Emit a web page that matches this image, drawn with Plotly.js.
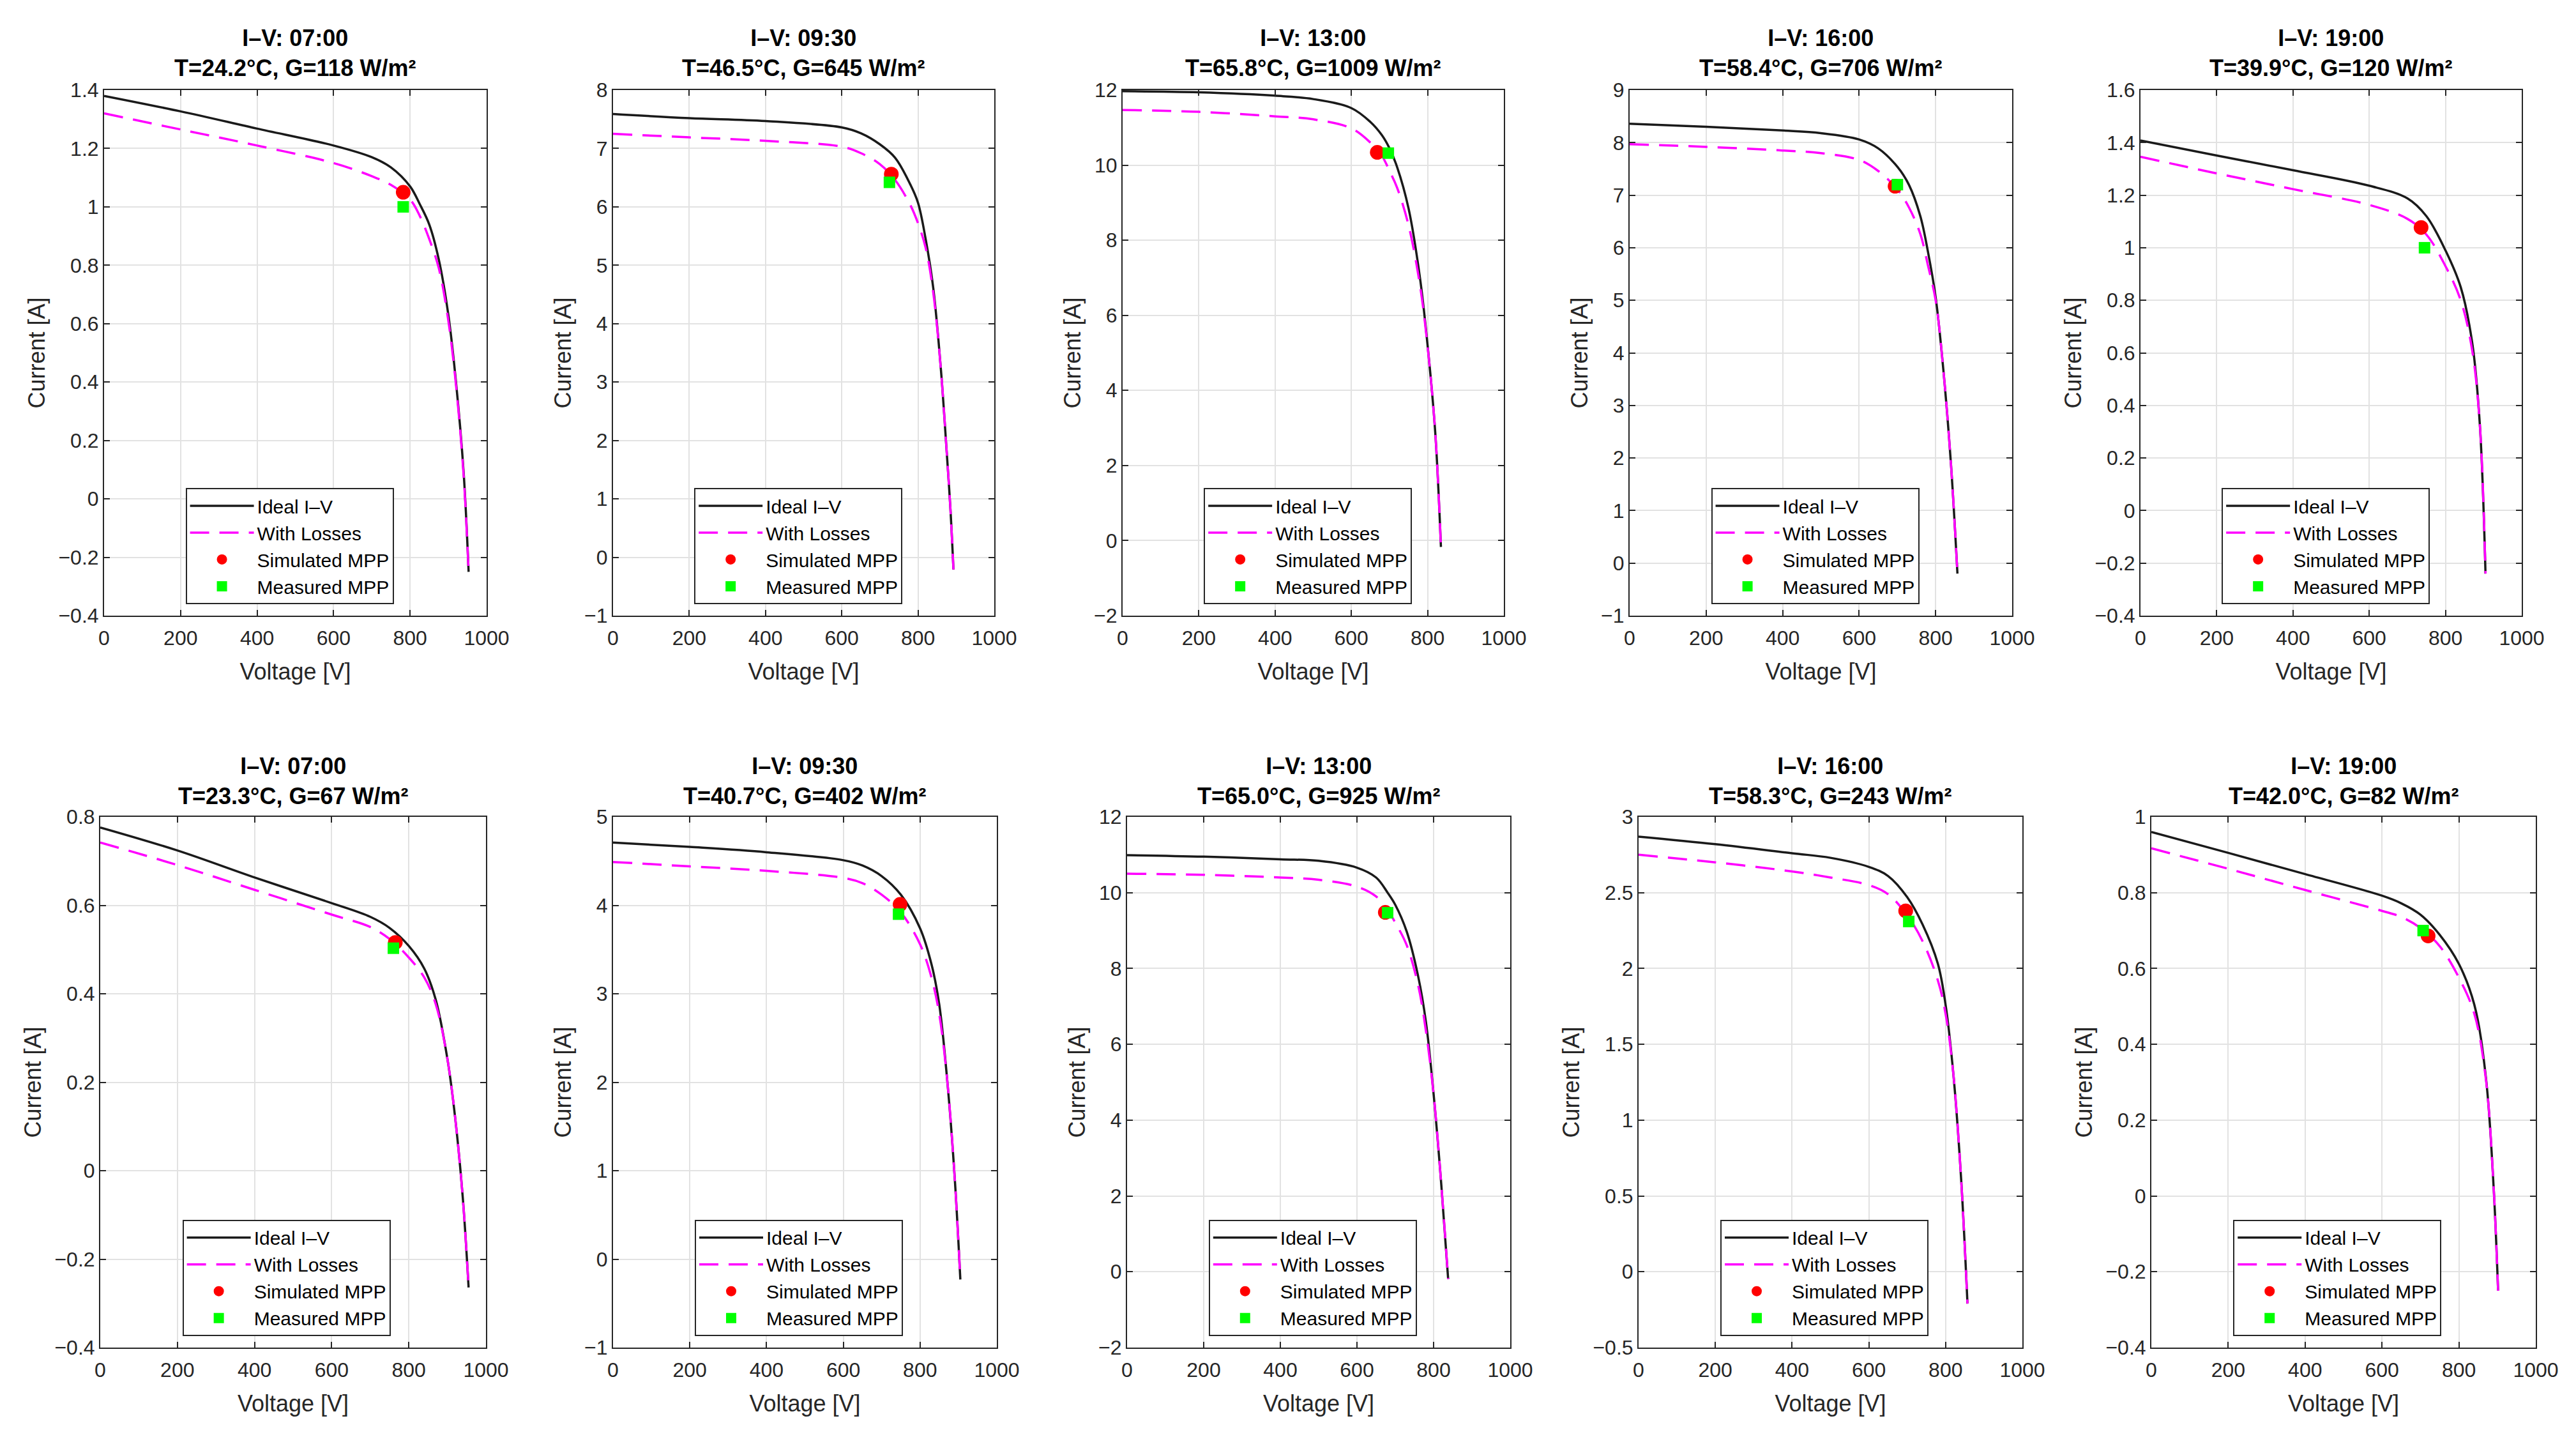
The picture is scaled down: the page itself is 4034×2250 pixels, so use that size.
<!DOCTYPE html>
<html>
<head>
<meta charset="utf-8">
<script src="https://cdn.plot.ly/plotly-3.0.1.min.js"></script>
<style>html,body{margin:0;padding:0;background:#fff}</style>
</head>
<body>
<div id="chart"></div>
<script>
// panel headers (row 1 then row 2)
const times = ['07:00', '09:30', '13:00', '16:00', '19:00', '07:00', '09:30', '13:00', '16:00', '19:00'];
const tempC = ['24.2', '46.5', '65.8', '58.4', '39.9', '23.3', '40.7', '65.0', '58.3', '42.0'];
const irradiance = [118, 645, 1009, 706, 120, 67, 402, 925, 243, 82];

// current axis ranges and tick steps
const yRanges = [[-0.4, 1.4], [-1, 8], [-2, 12], [-1, 9], [-0.4, 1.6],
                 [-0.4, 0.8], [-1, 5], [-2, 12], [-0.5, 3], [-0.4, 1]];
const yDticks = [0.2, 1, 2, 1, 0.2, 0.2, 1, 2, 0.5, 0.2];

// I-V curves: voltage [V], ideal current [A], current with losses [A]
const v1 = [0, 200, 400, 600, 700, 750, 800, 825, 850, 875, 900, 920, 940, 953];
const ideal1 = [1.38, 1.327, 1.268, 1.21, 1.17, 1.135, 1.07, 1.01, 0.94, 0.82, 0.63, 0.40, 0.09, -0.25];
const loss1 = [1.32, 1.265, 1.21, 1.15, 1.105, 1.075, 1.025, 0.97, 0.89, 0.79, 0.61, 0.39, 0.08, -0.25];

const v2 = [0, 200, 400, 600, 650, 700, 740, 780, 800, 820, 840, 860, 875, 885, 893];
const ideal2 = [7.59, 7.52, 7.47, 7.36, 7.26, 7.07, 6.84, 6.38, 6.07, 5.45, 4.61, 3.22, 1.83, 0.83, -0.21];
const loss2 = [7.25, 7.19, 7.13, 7.03, 6.92, 6.73, 6.46, 6.03, 5.72, 5.30, 4.53, 3.22, 1.83, 0.83, -0.21];

const v3 = [0, 200, 400, 500, 600, 650, 680, 700, 720, 750, 780, 800, 820, 835];
const ideal3 = [11.97, 11.94, 11.85, 11.76, 11.52, 11.15, 10.8, 10.45, 9.95, 8.85, 7.0, 5.2, 2.89, -0.17];
const loss3 = [11.47, 11.42, 11.30, 11.22, 10.98, 10.6, 10.25, 9.85, 9.4, 8.4, 6.8, 5.17, 2.89, -0.17];

const v4 = [0, 200, 400, 500, 600, 650, 700, 730, 760, 780, 800, 820, 840, 857];
const ideal4 = [8.36, 8.30, 8.23, 8.18, 8.06, 7.89, 7.54, 7.20, 6.60, 5.92, 5.06, 3.69, 1.89, -0.2];
const loss4 = [7.97, 7.92, 7.85, 7.80, 7.67, 7.46, 7.11, 6.77, 6.26, 5.66, 5.0, 3.69, 1.89, -0.2];

const v5 = [0, 200, 400, 600, 700, 750, 800, 840, 870, 890, 905];
const ideal5 = [1.408, 1.351, 1.295, 1.236, 1.188, 1.12, 0.99, 0.85, 0.64, 0.33, -0.24];
const loss5 = [1.346, 1.283, 1.223, 1.163, 1.11, 1.05, 0.93, 0.80, 0.61, 0.33, -0.24];

const v6 = [0, 200, 400, 600, 700, 750, 800, 840, 870, 900, 920, 940, 955];
const ideal6 = [0.776, 0.724, 0.663, 0.605, 0.574, 0.549, 0.508, 0.457, 0.386, 0.253, 0.121, -0.062, -0.264];
const loss6 = [0.742, 0.691, 0.635, 0.579, 0.551, 0.524, 0.482, 0.437, 0.376, 0.253, 0.121, -0.062, -0.264];

const v7 = [0, 200, 400, 600, 650, 700, 750, 800, 830, 850, 870, 890, 905];
const ideal7 = [4.71, 4.66, 4.60, 4.51, 4.45, 4.33, 4.12, 3.74, 3.33, 2.88, 2.06, 0.94, -0.23];
const loss7 = [4.49, 4.44, 4.39, 4.31, 4.25, 4.12, 3.92, 3.56, 3.18, 2.77, 2.06, 0.94, -0.23];

const v8 = [0, 200, 400, 500, 600, 650, 680, 700, 730, 760, 780, 800, 820, 838];
const ideal8 = [10.99, 10.95, 10.88, 10.84, 10.66, 10.40, 10.0, 9.68, 8.97, 7.78, 6.59, 4.69, 2.31, -0.19];
const loss8 = [10.50, 10.47, 10.40, 10.34, 10.16, 9.9, 9.54, 9.21, 8.61, 7.54, 6.35, 4.69, 2.31, -0.19];

const v9 = [0, 200, 400, 500, 600, 650, 700, 740, 780, 800, 820, 840, 857];
const ideal9 = [2.87, 2.82, 2.76, 2.73, 2.67, 2.61, 2.47, 2.29, 2.03, 1.76, 1.31, 0.63, -0.21];
const loss9 = [2.75, 2.70, 2.64, 2.60, 2.55, 2.49, 2.35, 2.18, 1.92, 1.70, 1.31, 0.63, -0.21];

const v10 = [0, 200, 400, 600, 650, 700, 750, 800, 840, 870, 890, 902];
const ideal10 = [0.96, 0.905, 0.849, 0.792, 0.772, 0.742, 0.689, 0.612, 0.505, 0.315, 0.03, -0.25];
const loss10 = [0.917, 0.863, 0.807, 0.752, 0.736, 0.707, 0.659, 0.576, 0.481, 0.31, 0.03, -0.25];

// maximum power points
const simMppV = [782, 730, 668, 694, 736, 765, 748, 674, 696, 720];
const simMppI = [1.05, 6.56, 10.34, 7.17, 1.077, 0.516, 4.01, 9.48, 2.38, 0.686];
const measMppV = [782, 725, 697, 700, 745, 760, 744, 680, 704, 707];
const measMppI = [1.0, 6.42, 10.32, 7.2, 1.0, 0.503, 3.90, 9.47, 2.31, 0.70];

const volts = [v1, v2, v3, v4, v5, v6, v7, v8, v9, v10];
const idealI = [ideal1, ideal2, ideal3, ideal4, ideal5, ideal6, ideal7, ideal8, ideal9, ideal10];
const lossI = [loss1, loss2, loss3, loss4, loss5, loss6, loss7, loss8, loss9, loss10];

// page geometry in pixels
const W = 4034, H = 2250;
const colPx = [[163, 762], [960, 1557], [1758, 2355], [2552, 3151], [3352, 3949],
               [157, 761], [960, 1561], [1765, 2365], [2566, 3167], [3369, 3971]];
const rowPx = [[141, 964], [1279, 2110]];
const titleMidPx = [83, 1223];

const FONT = 'Liberation Sans, Arial, Helvetica, sans-serif';
const INK = '#262626';

const traces = [];
const layout = {
  width: W, height: H,
  margin: {l: 0, r: 0, t: 0, b: 0},
  paper_bgcolor: '#fff', plot_bgcolor: '#fff',
  font: {family: FONT, color: INK, size: 32},
  annotations: [],
};

times.forEach((t, k) => {
  const n = k + 1;
  const sfx = n === 1 ? '' : String(n);
  const row = k < 5 ? 0 : 1;
  const [x0, x1] = colPx[k];
  const [yTop, yBot] = rowPx[row];
  const legendName = 'legend' + sfx;

  traces.push({
    x: volts[k], y: idealI[k], xaxis: 'x' + sfx, yaxis: 'y' + sfx, legend: legendName,
    type: 'scatter', mode: 'lines', name: 'Ideal I–V',
    line: {color: '#1a1a1a', width: 3.5, shape: 'spline', smoothing: 1},
  });
  traces.push({
    x: volts[k], y: lossI[k], xaxis: 'x' + sfx, yaxis: 'y' + sfx, legend: legendName,
    type: 'scatter', mode: 'lines', name: 'With Losses',
    line: {color: '#ff00ff', width: 3.5, dash: '30px,16px', shape: 'spline', smoothing: 1},
  });
  traces.push({
    x: [simMppV[k]], y: [simMppI[k]], xaxis: 'x' + sfx, yaxis: 'y' + sfx, legend: legendName,
    type: 'scatter', mode: 'markers', name: 'Simulated MPP',
    marker: {color: '#ff0000', size: 23, symbol: 'circle'},
  });
  traces.push({
    x: [measMppV[k]], y: [measMppI[k]], xaxis: 'x' + sfx, yaxis: 'y' + sfx, legend: legendName,
    type: 'scatter', mode: 'markers', name: 'Measured MPP',
    marker: {color: '#00ff00', size: 18, symbol: 'square'},
  });

  const axisCommon = {
    showline: true, linecolor: INK, linewidth: 2, mirror: 'ticks',
    ticks: 'inside', ticklen: 9, tickwidth: 2, tickcolor: INK,
    showgrid: true, gridcolor: '#e2e2e2', gridwidth: 2, zeroline: false,
    tickfont: {family: FONT, size: 32, color: INK},
  };
  layout['xaxis' + sfx] = Object.assign({}, axisCommon, {
    domain: [x0 / W, x1 / W], anchor: 'y' + sfx,
    range: [0, 1000], dtick: 200, tick0: 0, ticklabelstandoff: 6,
    title: {text: 'Voltage [V]', font: {family: FONT, size: 36, color: INK}, standoff: 22},
  });
  layout['yaxis' + sfx] = Object.assign({}, axisCommon, {
    domain: [1 - yBot / H, 1 - yTop / H], anchor: 'x' + sfx,
    range: yRanges[k], dtick: yDticks[k], tick0: 0,
    title: {text: 'Current [A]', font: {family: FONT, size: 36, color: INK}, standoff: 10},
  });

  layout.annotations.push({
    xref: 'paper', yref: 'paper',
    x: (x0 + x1) / 2 / W, y: 1 - titleMidPx[row] / H,
    xanchor: 'center', yanchor: 'middle', showarrow: false,
    text: '<b>I–V: ' + t + '</b><br><b>T=' + tempC[k] + '°C, G=' + irradiance[k] + ' W/m²</b>',
    font: {family: FONT, size: 36, color: '#000'},
  });

  layout[legendName] = {
    x: (x0 + 0.213 * (x1 - x0)) / W,
    y: 1 - (yBot - 0.022 * (yBot - yTop)) / H,
    xanchor: 'left', yanchor: 'bottom',
    bgcolor: '#fff', bordercolor: INK, borderwidth: 2,
    font: {family: FONT, size: 30, color: '#000'},
    itemwidth: 100, tracegroupgap: 0,
  };
});

Plotly.newPlot('chart', traces, layout, {displayModeBar: false, staticPlot: true});
</script>
</body>
</html>
